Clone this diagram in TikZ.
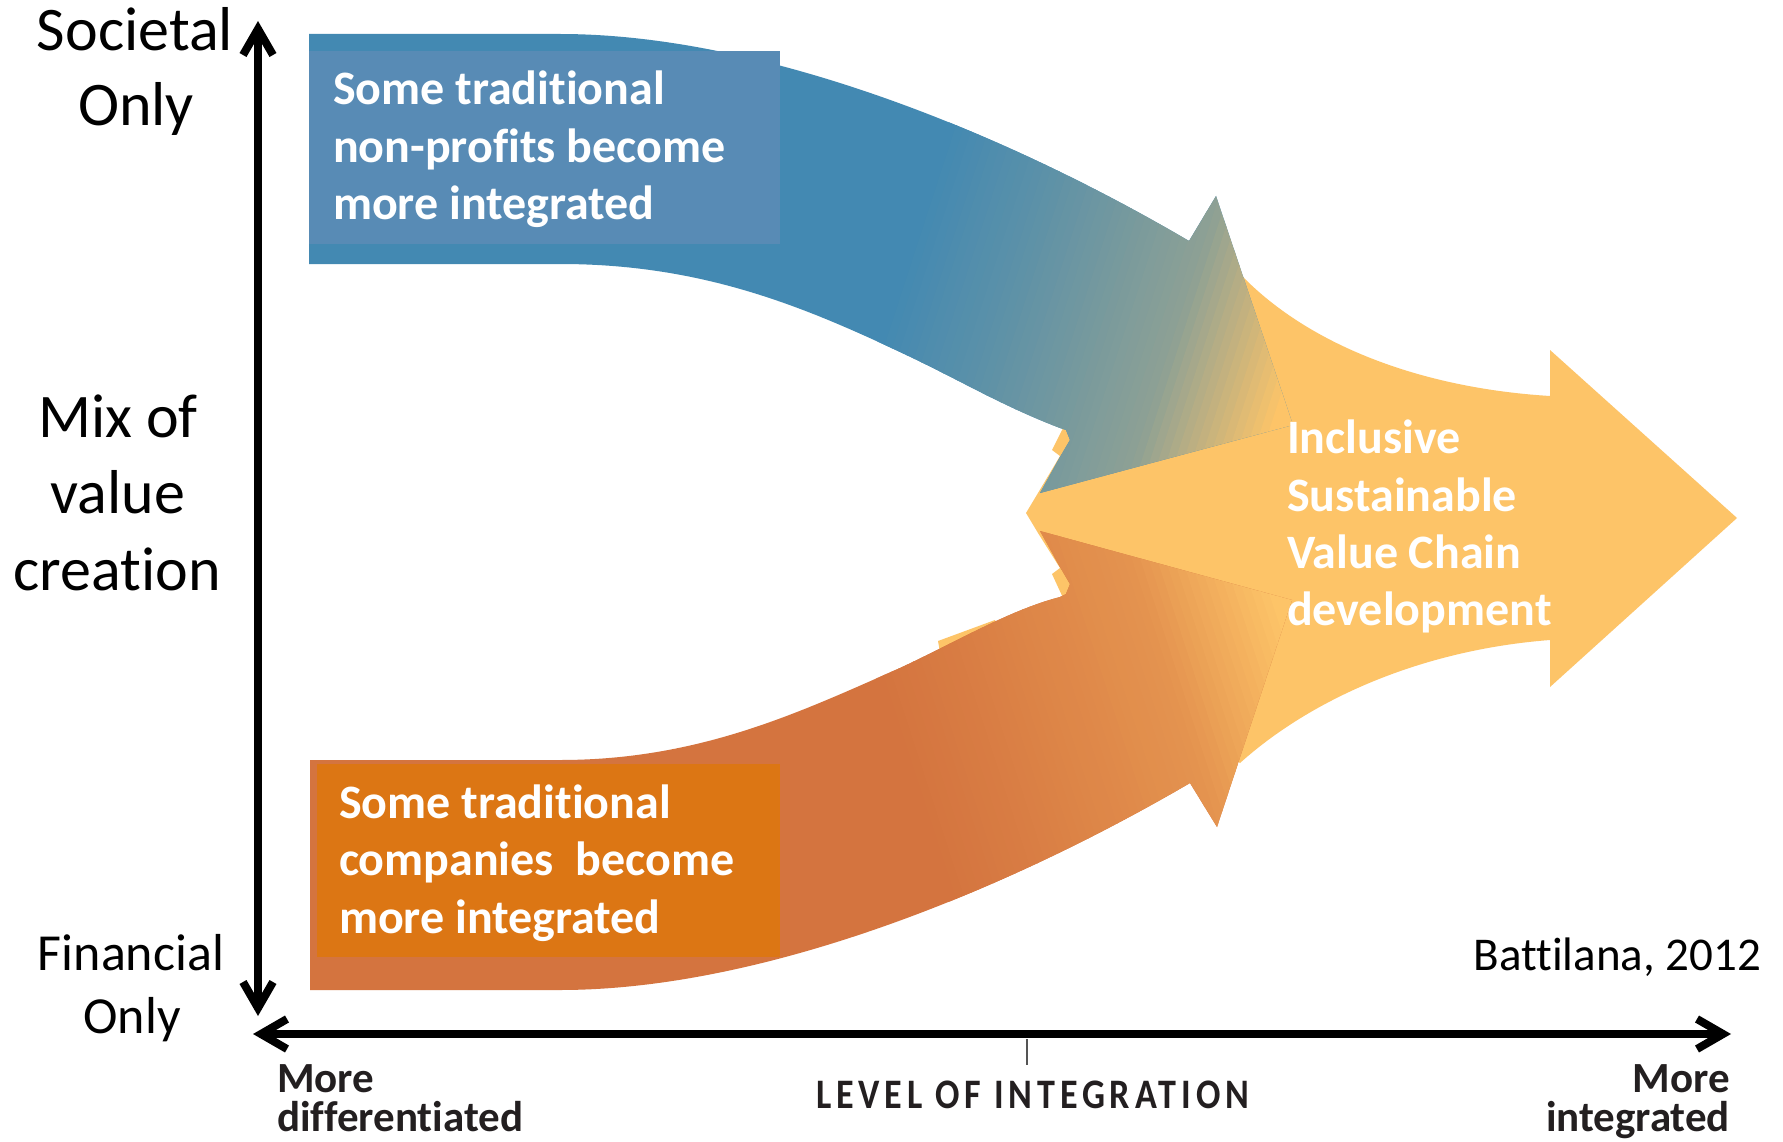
\documentclass[tikz,border=0pt]{standalone}
\usepackage{fontspec}
\setmainfont{Carlito}[Ligatures=NoCommon]
\newfontfamily\levelfont{Carlito}[Ligatures=NoCommon,FakeStretch=0.86,LetterSpace=11.5]
\usetikzlibrary{arrows.meta}
\definecolor{bandblue}{HTML}{4389B2}
\definecolor{boxblue}{HTML}{588BB5}
\definecolor{bandorange}{HTML}{D4743F}
\definecolor{boxorange}{HTML}{DC7614}
\definecolor{yel}{HTML}{FDC468}
\definecolor{darktext}{HTML}{231F20}
\definecolor{tickgray}{HTML}{555555}
\begin{document}
\begin{tikzpicture}[x=1pt,y=-1pt,
  txt/.style={inner sep=0pt,outer sep=0pt},
  bigaxis/.style={txt,anchor=base,text=black,font=\fontsize{62pt}{75pt}\selectfont},
  smallaxis/.style={txt,anchor=base,text=black,font=\fontsize{52pt}{62pt}\selectfont},
  wtxt/.style={txt,anchor=base west,text=white,font=\fontsize{48pt}{57pt}\selectfont\bfseries},
  dtxt/.style={txt,text=darktext,font=\fontsize{43pt}{40pt}\selectfont\bfseries},
  axisline/.style={line width=8pt,black,line cap=round,line join=round,
    {Straight Barb[length=26pt,width=30pt]}-{Straight Barb[length=26pt,width=30pt]}}
]
\useasboundingbox (0,0) rectangle (1783,1142);
\fill[white] (0,0) rectangle (1783,1142);

\def\bluepath{(309,34) -- (560,34) .. controls (760,34) and (1000,130) .. (1189,241) -- (1216,196) -- (1293,425) -- (1040,493) -- (1060,457) -- (1070,440) -- (1066,430) -- (1060,428) .. controls (1000,405) and (960,380) .. (900,352) .. controls (800,305) and (700,264) .. (560,264) -- (309,264) -- cycle}
\def\orangepath{(310,760) -- (560,760) .. controls (700,760) and (800,712) .. (900,668) .. controls (960,640) and (1010,610) .. (1060,597) -- (1066,594) -- (1070,584) -- (1060,567) -- (1040,531) -- (1292,600) -- (1217,827) -- (1190,783) .. controls (1000,894) and (760,990) .. (560,990) -- (310,990) -- cycle}

% yellow merged arrow (behind)
\fill[yel] (1026,513) -- (1038,533) -- (1060,568) -- (1052,574) -- (1064,600) -- (1110,640) -- (1160,700) -- (1240,763) .. controls (1310,700) and (1420,650) .. (1550,640) -- (1550,687) -- (1737,518) -- (1550,350) -- (1550,396) .. controls (1420,388) and (1310,345) .. (1243,277) -- (1150,330) -- (1064,426) -- (1052,450) -- (1060,456) -- (1038,493) -- cycle;
\fill[yel] (938,641) -- (995,620) -- (1000,632) -- (940,652) -- cycle;

% blue curved arrow with fade
\begin{scope}
  \clip \bluepath;
  \fill[bandblue] (300,20) rectangle (1310,510);
  \begin{scope}[rotate=-18]
    \foreach \uu in {940,948,...,1340}{
      \pgfmathsetmacro\pp{100*min(1,ifthenelse(\uu<1055,0.15*(\uu-940)/115,ifthenelse(\uu<1217,0.15+0.25*(\uu-1055)/162,0.4+0.6*(\uu-1217)/123)))}
      \fill[yel!\pp!bandblue] (\uu,-700) rectangle (\uu+9,800);
    }
    \fill[yel] (1348,-700) rectangle (1700,800);
  \end{scope}
\end{scope}

% orange curved arrow with fade
\begin{scope}
  \clip \orangepath;
  \fill[bandorange] (300,510) rectangle (1310,1000);
  \begin{scope}[rotate around={18:(0,1024)}]
    \foreach \uu in {940,948,...,1340}{
      \pgfmathsetmacro\pp{100*min(1,ifthenelse(\uu<1055,0.15*(\uu-940)/115,ifthenelse(\uu<1217,0.15+0.25*(\uu-1055)/162,0.4+0.6*(\uu-1217)/123)))}
      \fill[yel!\pp!bandorange] (\uu,300) rectangle (\uu+9,1800);
    }
    \fill[yel] (1348,300) rectangle (1700,1800);
  \end{scope}
\end{scope}

% text boxes
\fill[boxblue] (309,51) rectangle (780,244);
\fill[boxorange] (317,764) rectangle (780,957);

\node[wtxt] (b1) at (333,105) {Some traditional};
\node[wtxt] (b2) at (333,163) {non-profits become};
\node[wtxt] (b3) at (333,220) {more integrated};
\node[wtxt] (o1) at (339,818) {Some traditional};
\node[wtxt] (o2) at (339,875) {companies~ become};
\node[wtxt] (o3) at (339,933) {more integrated};
\node[wtxt] (y1) at (1287,453) {Inclusive};
\node[wtxt] (y2) at (1287,511) {Sustainable};
\node[wtxt] (y3) at (1287,568) {Value Chain};
\node[wtxt] (y4) at (1287,625) {development};

% vertical axis labels
\node[bigaxis] (s1) at (135,51) {Societal};
\node[bigaxis] (s2) at (136,126) {Only};
\node[bigaxis] (m1) at (118,437) {Mix of};
\node[bigaxis] (m2) at (118,513) {value};
\node[bigaxis] (m3) at (117,590) {creation};
\node[smallaxis] (f1) at (131,970) {Financial};
\node[smallaxis] (f2) at (132,1033) {Only};

% axes
\coordinate (vtop) at (258,21);
\coordinate (vbot) at (258,1016);
\coordinate (hleft) at (253,1034);
\coordinate (hright) at (1731,1034);
\draw[axisline] (vbot) -- (vtop);
\draw[axisline] (hleft) -- (hright);
\coordinate (tk1) at (1027,1039);
\coordinate (tk2) at (1027,1065);
\draw[tickgray,line width=1.5pt] (tk1) -- (tk2);

% horizontal axis labels
\node[dtxt,anchor=base west] (l1) at (277,1092) {More};
\node[dtxt,anchor=base west] (l2) at (277,1131) {differentiated};
\node[txt,text=darktext,anchor=base west,font=\levelfont\fontsize{42pt}{42pt}\selectfont\bfseries] (lv) at (816,1108) {LEVEL OF INTEGRATION};
\node[dtxt,anchor=base east] (r1) at (1730,1092) {More};
\node[dtxt,anchor=base east] (r2) at (1730,1131) {integrated};
\node[txt,anchor=base east,text=black,font=\fontsize{47pt}{56pt}\selectfont] (cite) at (1761,970) {Battilana, 2012};
\end{tikzpicture}
\end{document}
